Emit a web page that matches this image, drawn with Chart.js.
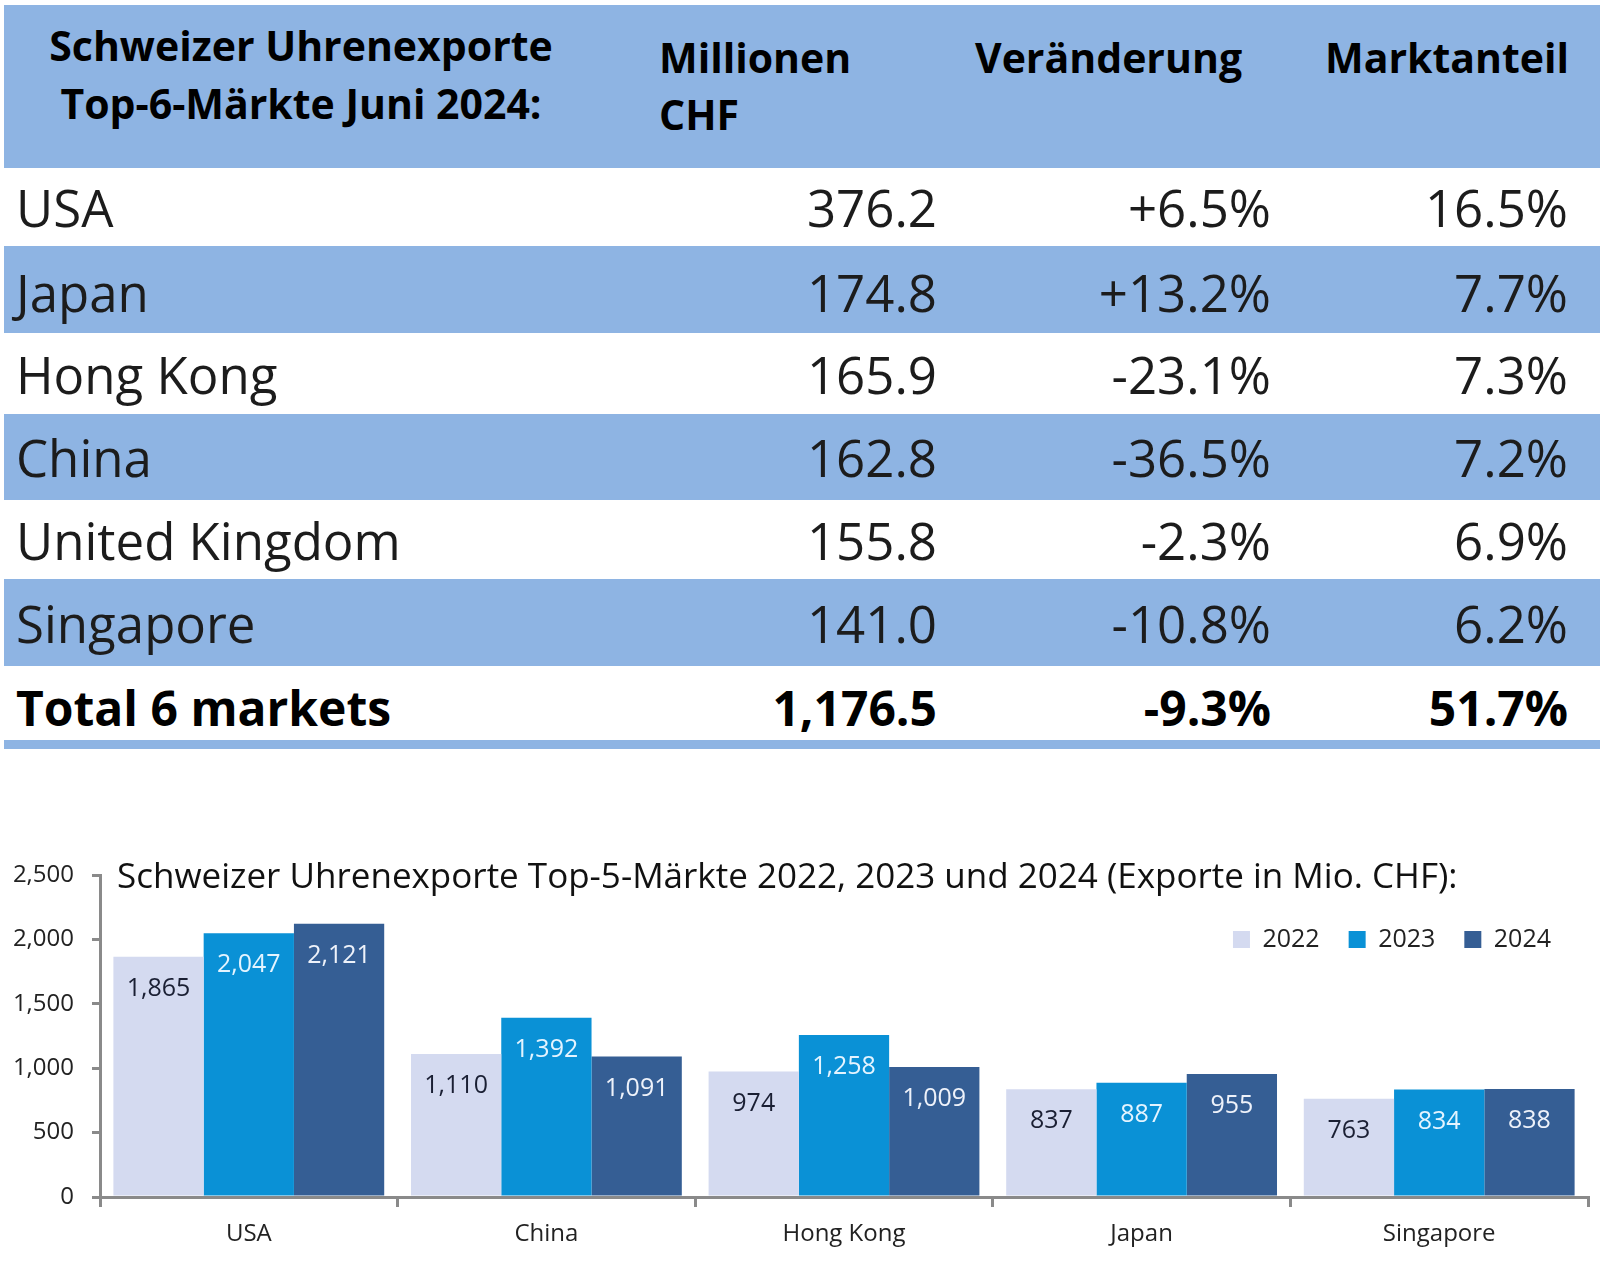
<!DOCTYPE html>
<html>
<head>
<meta charset="utf-8">
<title>Schweizer Uhrenexporte</title>
<script src="https://cdn.jsdelivr.net/npm/chart.js@4.4.1/dist/chart.umd.min.js"></script>
<style>
  body { margin: 0; width: 1600px; height: 1268px; position: relative; overflow: hidden; background: #fff; font-family: "Open Sans", sans-serif; }
  .band { position: absolute; left: 4px; right: 0; background: #8eb4e3; }
  .txt { position: absolute; white-space: nowrap; line-height: 1; transform: translateY(-50%); color: #1c1c1c; }
  .head { font-weight: bold; font-size: 41px; color: #000; }
  .row { font-size: 51px; }
  .total { font-weight: bold; font-size: 48px; color: #000; }
  #wrap { position: absolute; left: 0; top: 740px; width: 1600px; height: 528px; }
</style>
</head>
<body>
<div id="table"></div>
<div id="wrap"><canvas id="bars" width="1600" height="528"></canvas></div>
<script>
// Table: Top-6 markets June 2024
const markets = ["USA", "Japan", "Hong Kong", "China", "United Kingdom", "Singapore"];
const valueMio = [376.2, 174.8, 165.9, 162.8, 155.8, 141.0];
const changePct = [6.5, 13.2, -23.1, -36.5, -2.3, -10.8];
const sharePct = [16.5, 7.7, 7.3, 7.2, 6.9, 6.2];
const totalLabel = "Total 6 markets";
const totalMio = 1176.5;
const totalChange = -9.3;
const totalShare = 51.7;

// Chart: Top-5 markets 2022-2024
const chartTitle = "Schweizer Uhrenexporte Top-5-Märkte 2022, 2023 und 2024 (Exporte in Mio. CHF):";
const categories = ["USA", "China", "Hong Kong", "Japan", "Singapore"];
const years = ["2022", "2023", "2024"];
const exports2022 = [1865, 1110, 974, 837, 763];
const exports2023 = [2047, 1392, 1258, 887, 834];
const exports2024 = [2121, 1091, 1009, 955, 838];
const yTicks = [0, 500, 1000, 1500, 2000, 2500];

const barColors = ["#d4daf0", "#0a91d6", "#355e94"];
const valueColors = ["#1a1f33", "#e4f4ff", "#eef2fa"];

// ---- table ----
const table = document.getElementById("table");
const rowEdges = [168, 246, 333, 414, 500, 579, 666, 740];
const rowMid = [207, 292, 374, 457, 540, 623, 708];

function band(top, bottom) {
  const d = document.createElement("div");
  d.className = "band";
  d.style.top = top + "px";
  d.style.height = (bottom - top) + "px";
  table.appendChild(d);
}
function text(str, cls, y, opts) {
  const d = document.createElement("div");
  d.className = "txt " + cls;
  d.textContent = str;
  d.style.top = y + "px";
  if (opts.left != null) d.style.left = opts.left + "px";
  if (opts.right != null) d.style.right = (1600 - opts.right) + "px";
  if (opts.center != null) { d.style.left = opts.center + "px"; d.style.transform = "translate(-50%,-50%)"; }
  table.appendChild(d);
}
const fmt1 = v => v.toLocaleString("en-US", { minimumFractionDigits: 1, maximumFractionDigits: 1 });
const fmtChange = v => (v > 0 ? "+" : "") + fmt1(v) + "%";

band(5, 168);
text("Schweizer Uhrenexporte", "head", 45, { center: 301 });
text("Top-6-Märkte Juni 2024:", "head", 103, { center: 301 });
text("Millionen", "head", 57, { left: 659 });
text("CHF", "head", 114, { left: 659 });
text("Veränderung", "head", 57, { left: 975 });
text("Marktanteil", "head", 57, { left: 1325 });

markets.forEach((m, i) => {
  if (i % 2 === 1) band(rowEdges[i], rowEdges[i + 1]);
  text(m, "row", rowMid[i], { left: 16 });
  text(fmt1(valueMio[i]), "row", rowMid[i], { right: 937 });
  text(fmtChange(changePct[i]), "row", rowMid[i], { right: 1271 });
  text(fmt1(sharePct[i]) + "%", "row", rowMid[i], { right: 1568 });
});
text(totalLabel, "total", rowMid[6], { left: 16 });
text(fmt1(totalMio), "total", rowMid[6], { right: 937 });
text(fmtChange(totalChange), "total", rowMid[6], { right: 1271 });
text(fmt1(totalShare) + "%", "total", rowMid[6], { right: 1568 });
band(740, 749);

// ---- chart ----
Chart.defaults.font.family = '"Open Sans", sans-serif';
const axisGrey = "#8a8a8a";

// move title and legend into the plot area, as in the original slide
const placeBoxes = {
  id: "placeBoxes",
  afterLayout(chart) {
    const a = chart.chartArea;
    const t = chart.titleBlock;
    if (t) {
      const h = t.height;
      t.left = 117; t.right = 1600;
      t.top = a.top + 3 - h / 2; t.bottom = t.top + h;
    }
    const l = chart.legend;
    if (l) {
      const h = l.height;
      l.top = a.top + 23; l.bottom = l.top + h;
      l.right = a.right - 8;
    }
  }
};

const barValues = {
  id: "barValues",
  afterDatasetsDraw(chart) {
    const ctx = chart.ctx;
    ctx.save();
    ctx.font = '25px "Open Sans", sans-serif';
    ctx.textAlign = "center";
    ctx.textBaseline = "middle";
    chart.data.datasets.forEach((ds, i) => {
      chart.getDatasetMeta(i).data.forEach((bar, j) => {
        ctx.fillStyle = valueColors[i];
        ctx.fillText(ds.data[j].toLocaleString("en-US"), bar.x, bar.y + 32);
      });
    });
    ctx.restore();
  }
};

const chart = new Chart(document.getElementById("bars"), {
  type: "bar",
  data: {
    labels: categories,
    datasets: [
      { label: years[0], data: exports2022, backgroundColor: barColors[0] },
      { label: years[1], data: exports2023, backgroundColor: barColors[1] },
      { label: years[2], data: exports2024, backgroundColor: barColors[2] }
    ]
  },
  options: {
    responsive: false,
    animation: false,
    locale: "en-US",
    layout: { padding: { top: 0, right: 12, bottom: 0, left: 0 } },
    datasets: { bar: { categoryPercentage: 0.91, barPercentage: 1 } },
    plugins: {
      title: { display: true, text: chartTitle, align: "start", color: "#111", padding: 0, font: { size: 35, weight: "normal" } },
      legend: {
        position: "top",
        align: "end",
        labels: { boxWidth: 17, boxHeight: 17, padding: 29, color: "#222", font: { size: 25 } }
      },
      tooltip: { enabled: false }
    },
    scales: {
      x: {
        grid: { display: true, drawOnChartArea: false, offset: true, tickLength: 10, color: axisGrey, lineWidth: 3 },
        border: { color: axisGrey, width: 3 },
        ticks: { color: "#222", padding: 13, font: { size: 24 } },
        afterFit(s) { s.height = 71; }
      },
      y: {
        min: 0,
        max: 2500,
        afterBuildTicks(s) { s.ticks = yTicks.map(v => ({ value: v })); },
        grid: { drawOnChartArea: false, tickLength: 8, color: axisGrey, lineWidth: 3 },
        border: { color: axisGrey, width: 3 },
        ticks: { color: "#222", padding: 18, font: { size: 24 } },
        afterFit(s) { s.width = 100; }
      }
    }
  },
  plugins: [placeBoxes, barValues]
});

// align the plot top with page y = 875
const extra = (875 - 740) - chart.chartArea.top;
chart.options.layout.padding.top = Math.max(0, extra);
chart.update();
</script>
</body>
</html>
